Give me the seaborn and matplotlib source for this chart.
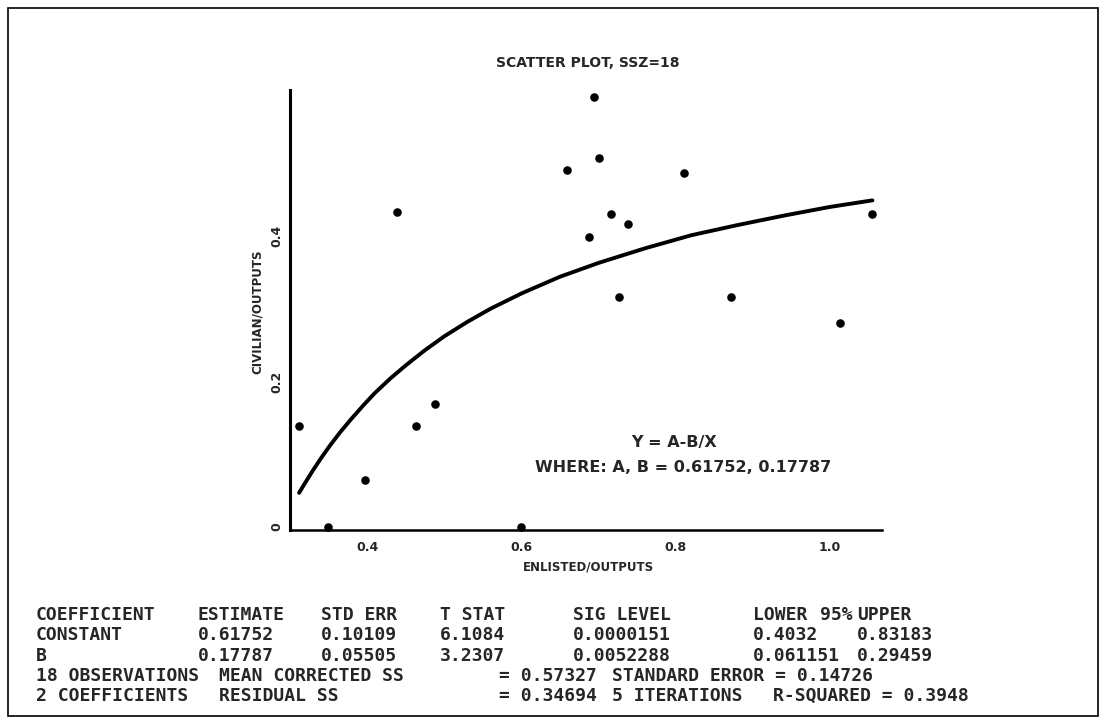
import matplotlib
matplotlib.use("Agg")
import numpy as np
import pandas as pd
import matplotlib.pyplot as plt
import seaborn as sns
from matplotlib.patches import Rectangle

enlisted = [0.312, 0.349, 0.398, 0.4385, 0.463, 0.4885, 0.600, 0.659, 0.688,
            0.694, 0.7005, 0.716, 0.726, 0.738, 0.811, 0.872, 1.013, 1.0545]
civilian = [0.139, 0.000, 0.064, 0.433, 0.139, 0.169, 0.000, 0.491, 0.398,
            0.591, 0.507, 0.430, 0.316, 0.416, 0.487, 0.316, 0.280, 0.430]

# fitted curve
curve_x = [0.312, 0.320, 0.330, 0.340, 0.352, 0.365, 0.380, 0.395, 0.410, 0.430,
           0.450, 0.475, 0.500, 0.530, 0.560, 0.600, 0.650, 0.700, 0.760, 0.820,
           0.880, 0.940, 1.000, 1.055]
curve_y = [0.047, 0.061, 0.078, 0.094, 0.112, 0.130, 0.149, 0.167, 0.184, 0.204,
           0.222, 0.243, 0.262, 0.282, 0.300, 0.321, 0.344, 0.363, 0.383, 0.401,
           0.415, 0.428, 0.440, 0.449]

x_ticks = [0.4, 0.5, 0.6, 0.7, 0.8, 0.9, 1.0]
x_tick_labels = ["0.4", "", "0.6", "", "0.8", "", "1.0"]
y_ticks = [0.0, 0.1, 0.2, 0.3, 0.4, 0.5]
y_tick_labels = ["0", "", "0.2", "", "0.4", ""]

# regression summary printed under the plot
header = ["COEFFICIENT", "ESTIMATE", "STD ERR", "T STAT", "SIG LEVEL", "LOWER", "95%", "UPPER"]
row_constant = ["CONSTANT", "0.61752", "0.10109", "6.1084", "0.0000151", "0.4032", "0.83183"]
row_b = ["B", "0.17787", "0.05505", "3.2307", "0.0052288", "0.061151", "0.29459"]
row_obs = ["18 OBSERVATIONS", "MEAN CORRECTED SS", "= 0.57327", "STANDARD ERROR = 0.14726"]
row_coef = ["2 COEFFICIENTS", "RESIDUAL SS", "= 0.34694", "5 ITERATIONS", "R-SQUARED = 0.3948"]

W, H = 1106, 720
sns.set_theme(style="white")
plt.rcParams['font.family'] = ['DejaVu Sans']

fig = plt.figure(figsize=(W / 100, H / 100), dpi=100)
fig.patch.set_facecolor("white")


def px(x, y):
    return x / W, 1 - y / H


ax = fig.add_axes([290 / W, 1 - 530 / H, 592 / W, 440 / H])

df_pts = pd.DataFrame({"enlisted": enlisted, "civilian": civilian})
df_fit = pd.DataFrame({"x": curve_x, "y": curve_y})

sns.lineplot(data=df_fit, x="x", y="y", ax=ax, color="black", lw=2.8,
             sort=True, estimator=None)
sns.scatterplot(data=df_pts, x="enlisted", y="civilian", ax=ax, color="black",
                s=38, edgecolor="black", linewidth=0, zorder=3, clip_on=False)

ax.set_xlim(0.3002, 1.0674)
ax.set_ylim(-0.0041, 0.6007)
ax.set_xticks(x_ticks)
ax.set_xticklabels(x_tick_labels, fontsize=9, fontweight="bold")
ax.set_yticks(y_ticks)
ax.set_yticklabels(y_tick_labels, fontsize=9, fontweight="bold", rotation=90, va="center")
ax.tick_params(axis="both", direction="in", length=6, width=1.5, color="black")
ax.tick_params(axis="x", pad=8)
ax.tick_params(axis="y", pad=5)

for side in ["top", "right"]:
    ax.spines[side].set_visible(False)
ax.spines["left"].set_linewidth(2.2)
ax.spines["bottom"].set_linewidth(1.8)
ax.spines["left"].set_color("black")
ax.spines["bottom"].set_color("black")

ax.set_xlabel("")
ax.set_ylabel("")
fig.text(*px(588, 567), "ENLISTED/OUTPUTS", ha="center", va="center",
         fontsize=8.5, fontweight="bold")
fig.text(*px(257, 312), "CIVILIAN/OUTPUTS", ha="center", va="center",
         fontsize=8.5, fontweight="bold", rotation=90)
fig.text(*px(588, 63), "SCATTER PLOT, SSZ=18", ha="center", va="center",
         fontsize=10, fontweight="bold")

fig.text(*px(674, 443), "Y = A-B/X", ha="center", va="center",
         fontsize=11.5, fontweight="bold")
fig.text(*px(683, 467), "WHERE: A, B = 0.61752, 0.17787", ha="center", va="center",
         fontsize=11.5, fontweight="bold")

# printed table
mono = dict(family="DejaVu Sans Mono", fontweight="bold", fontsize=13,
            ha="left", va="center")
col_x = [36, 198, 321, 440, 573, 753, 857]
header_x = [36, 198, 321, 440, 573, 753, 820, 857]
row_y = [615, 635, 656, 676, 696]

for label, x in zip(header, header_x):
    fig.text(*px(x, row_y[0]), label, **mono)
for label, x in zip(row_constant, col_x):
    fig.text(*px(x, row_y[1]), label, **mono)
for label, x in zip(row_b, col_x):
    fig.text(*px(x, row_y[2]), label, **mono)
for label, x in zip(row_obs, [36, 219, 499, 612]):
    fig.text(*px(x, row_y[3]), label, **mono)
for label, x in zip(row_coef, [36, 219, 499, 612, 773]):
    fig.text(*px(x, row_y[4]), label, **mono)

# page border of the printout
fig.patches.append(Rectangle(px(8, 716), 1090 / W, 708 / H, transform=fig.transFigure,
                             fill=False, edgecolor="black", linewidth=1.2))

fig.savefig("out.png", dpi=100, facecolor="white")
